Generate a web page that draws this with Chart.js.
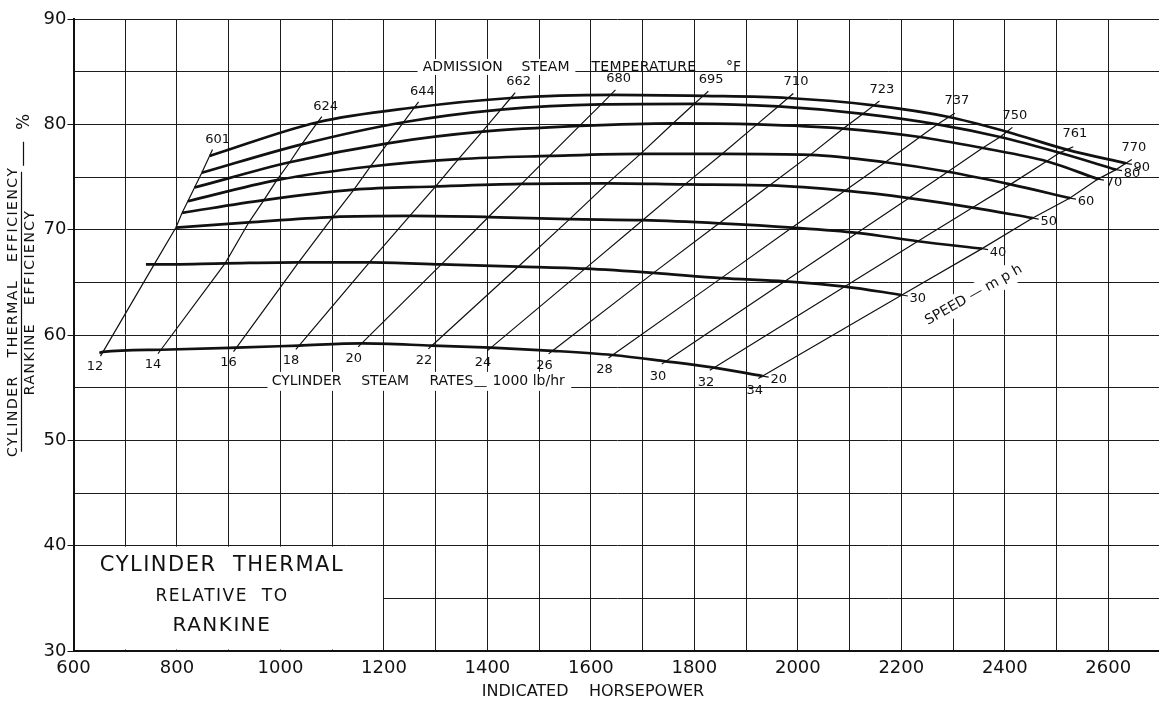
<!DOCTYPE html>
<html>
<head>
<meta charset="utf-8">
<title>Cylinder thermal efficiency relative to Rankine</title>
<script src="https://cdn.jsdelivr.net/npm/chart.js@4.4.0/dist/chart.umd.min.js"></script>
<style>
  html, body { margin: 0; padding: 0; background: #fff; overflow: hidden; }
  #wrap { width: 1163px; height: 706px; }
</style>
</head>
<body>
<div id="wrap"><canvas id="effChart" width="1163" height="706"></canvas></div>
<script>
// speed curves (mph) and the steam-rate lines that cross them
const speeds = [20, 30, 40, 50, 60, 70, 80, 90];
const steamRates = [12, 14, 16, 18, 20, 22, 24, 26, 28, 30, 32, 34];          // 1000 lb/hr
const admissionTemps = [601, 624, 644, 662, 680, 695, 710, 723, 737, 750, 761, 770]; // deg F

// indicated horsepower and efficiency (%) where each speed curve meets each steam-rate line
const hp20  = [657, 769, 915, 1036, 1157, 1293, 1407, 1526, 1642, 1745, 1838, 1932];
const eff20 = [58.4, 58.6, 58.8, 59.0, 59.2, 59.0, 58.8, 58.5, 58.1, 57.5, 56.9, 56.1];
const hp30  = [756, 893, 1035, 1172, 1311, 1460, 1589, 1721, 1852, 1975, 2091, 2201];
const eff30 = [66.7, 66.8, 66.9, 66.9, 66.7, 66.5, 66.3, 65.9, 65.4, 65.1, 64.6, 63.8];
const hp40  = [798, 939, 1101, 1250, 1402, 1559, 1700, 1848, 1989, 2115, 2232, 2356];
const eff40 = [70.2, 70.7, 71.2, 71.3, 71.2, 71.0, 70.9, 70.6, 70.2, 69.7, 68.9, 68.2];
const hp50  = [810, 968, 1142, 1300, 1466, 1632, 1782, 1945, 2091, 2215, 2338, 2454];
const eff50 = [71.6, 72.8, 73.8, 74.1, 74.35, 74.4, 74.3, 74.2, 73.7, 73.0, 72.1, 71.1];
const hp60  = [821, 993, 1174, 1344, 1520, 1696, 1854, 2024, 2169, 2290, 2411, 2526];
const eff60 = [72.7, 74.7, 76.0, 76.7, 77.0, 77.2, 77.2, 77.1, 76.4, 75.5, 74.3, 73.0];
const hp70  = [834, 1018, 1207, 1390, 1578, 1759, 1921, 2088, 2236, 2357, 2481, 2580];
const eff70 = [74.0, 76.4, 78.2, 79.3, 79.85, 80.1, 80.0, 79.6, 78.8, 77.75, 76.5, 74.8];
const hp80  = [848, 1041, 1238, 1426, 1620, 1800, 1962, 2126, 2270, 2391, 2506, 2615];
const eff80 = [75.4, 78.1, 80.2, 81.4, 81.9, 81.95, 81.7, 81.0, 80.0, 78.8, 77.3, 75.7];
const hp90  = [863, 1072, 1259, 1445, 1638, 1817, 1981, 2147, 2292, 2404, 2520, 2634];
const eff90 = [77.0, 80.2, 81.6, 82.5, 82.8, 82.7, 82.5, 81.8, 80.7, 79.3, 77.6, 76.3];

// the two slow curves run on a little past the 12 line at their left end (null = starts on it)
const startHp  = [650, 740, null, null, null, null, null, null];
const startEff = [58.3, 66.7, null, null, null, null, null, null];

// labelled ticks
const hpLabels  = [600, 800, 1000, 1200, 1400, 1600, 1800, 2000, 2200, 2400, 2600];
const effLabels = [30, 40, 50, 60, 70, 80, 90];

const hpRows  = [hp20, hp30, hp40, hp50, hp60, hp70, hp80, hp90];
const effRows = [eff20, eff30, eff40, eff50, eff60, eff70, eff80, eff90];

const FONT = 'DejaVu Sans';
const INK = '#111';

const datasets = [];
// thin steam rate lines, one point on every speed curve
steamRates.forEach((rate, i) => {
    datasets.push({
        label: rate + ' x1000 lb/hr',
        data: speeds.map((s, k) => ({ x: hpRows[k][i], y: effRows[k][i] })),
        showLine: true,
        borderColor: INK,
        borderWidth: 1.2,
        pointRadius: 0,
        tension: 0
    });
});
// heavy speed curves
speeds.forEach((s, k) => {
    let pts = hpRows[k].map((h, i) => ({ x: h, y: effRows[k][i] }));
    if (startHp[k] !== null) pts = [{ x: startHp[k], y: startEff[k] }].concat(pts);
    datasets.push({
        label: s + ' mph',
        data: pts,
        showLine: true,
        borderColor: INK,
        borderWidth: 2.7,
        pointRadius: 0,
        cubicInterpolationMode: 'monotone'
    });
});

function txt(ctx, s, x, y, o) {
    o = o || {};
    const size = o.size || 13;
    ctx.save();
    ctx.font = size + 'px "' + FONT + '"';
    if ('letterSpacing' in ctx) ctx.letterSpacing = (o.spacing || 0) + 'px';
    ctx.textAlign = o.align || 'center';
    ctx.textBaseline = 'middle';
    ctx.translate(x, y);
    if (o.angle) ctx.rotate(o.angle);
    if (o.bg !== undefined) {
        const w = ctx.measureText(s).width;
        const x0 = ctx.textAlign === 'left' ? 0 : -w / 2;
        ctx.fillStyle = '#fff';
        ctx.fillRect(x0 - o.bg, -size * 0.55 - o.bg, w + 2 * o.bg, size * 1.1 + 2 * o.bg);
    }
    ctx.fillStyle = INK;
    ctx.fillText(s, 0, 0);
    ctx.restore();
}

function blank(ctx, x0, y0, x1, y1) {
    ctx.save();
    ctx.fillStyle = '#fff';
    ctx.fillRect(x0, y0, x1 - x0, y1 - y0);
    ctx.restore();
}

const inkPlugin = {
    id: 'ink',
    beforeDatasetsDraw(chart) {
        // blank panel for the caption in the lower left corner
        const { ctx, scales: { x, y } } = chart;
        blank(ctx, x.getPixelForValue(600) + 1.5, y.getPixelForValue(40) + 1,
              x.getPixelForValue(1200) - 1, y.getPixelForValue(30) - 1.5);
    },
    afterDatasetsDraw(chart) {
        const { ctx, chartArea, scales: { x, y } } = chart;
        const X = v => x.getPixelForValue(v), Y = v => y.getPixelForValue(v);
        const top = hpRows.length - 1;

        ctx.save();
        ctx.strokeStyle = INK;
        ctx.lineWidth = 1.2;
        // small run-outs on the steam rate lines, plus their labels
        steamRates.forEach((rate, i) => {
            const ax = X(hpRows[top][i]), ay = Y(effRows[top][i]);
            const bx = X(hpRows[top - 1][i]), by = Y(effRows[top - 1][i]);
            const hx = X(hpRows[0][i]), hy = Y(effRows[0][i]);
            const gx = X(hpRows[1][i]), gy = Y(effRows[1][i]);
            const d1 = Math.hypot(ax - bx, ay - by), d2 = Math.hypot(hx - gx, hy - gy);
            ctx.beginPath();
            ctx.moveTo(ax, ay);
            ctx.lineTo(ax + (ax - bx) / d1 * 7, ay + (ay - by) / d1 * 7);
            ctx.moveTo(hx, hy);
            ctx.lineTo(hx + (hx - gx) / d2 * 5, hy + (hy - gy) / d2 * 5);
            ctx.stroke();
            txt(ctx, String(admissionTemps[i]), ax + 8, ay - 16, { size: 13 });
            txt(ctx, String(rate), hx - 8, hy + 15, { size: 13 });
        });
        // speed labels at the right end of each curve
        speeds.forEach((s, k) => {
            const last = hpRows[k].length - 1;
            const ex = X(hpRows[k][last]), ey = Y(effRows[k][last]);
            ctx.beginPath();
            ctx.moveTo(ex, ey);
            ctx.lineTo(ex + 6, ey + 1);
            ctx.stroke();
            txt(ctx, String(s), ex + 16, ey + 4, { size: 13 });
        });
        ctx.restore();

        // ADMISSION STEAM TEMPERATURE heading; the grid line breaks under the first two words
        const hy = Y(85.45);
        blank(ctx, X(1265), hy - 8, X(1570), hy + 8);
        txt(ctx, 'ADMISSION', X(1275), hy, { size: 14, align: 'left' });
        txt(ctx, 'STEAM', X(1466), hy, { size: 14, align: 'left' });
        txt(ctx, 'TEMPERATURE', X(1601), hy, { size: 14, align: 'left', spacing: 0.3 });
        txt(ctx, '___', X(1815), hy - 1, { size: 12, align: 'left' });
        txt(ctx, '°F', X(1861), hy, { size: 14, align: 'left' });

        // steam rate heading, sits on a gap in the grid
        blank(ctx, X(975), Y(56.5), X(1562), Y(54.7));
        const ry = Y(55.63);
        txt(ctx, 'CYLINDER', X(983), ry, { size: 14, align: 'left' });
        txt(ctx, 'STEAM', X(1156), ry, { size: 14, align: 'left' });
        txt(ctx, 'RATES', X(1288), ry, { size: 14, align: 'left' });
        txt(ctx, '__', X(1375), ry, { size: 12, align: 'left' });
        txt(ctx, '1000 lb/hr', X(1410), ry, { size: 14, align: 'left' });

        // speed axis note, slanted
        txt(ctx, 'SPEED — m p h', X(2340), Y(63.8), { size: 14, angle: -29.5 * Math.PI / 180, bg: 3 });

        // caption panel
        const cx = X(887);
        txt(ctx, 'CYLINDER  THERMAL', cx, Y(38.07), { size: 21, spacing: 1.5 });
        txt(ctx, 'RELATIVE  TO', cx, Y(35.12), { size: 17, spacing: 1.5 });
        txt(ctx, 'RANKINE', cx, Y(32.37), { size: 20, spacing: 1.5 });

        // x title
        txt(ctx, 'INDICATED    HORSEPOWER', X(1604), chartArea.bottom + 41, { size: 16 });

        // y title: efficiency ratio written as a fraction
        const l = chartArea.left;
        const up = -Math.PI / 2;
        const mid = Y(62.2);
        txt(ctx, 'CYLINDER   THERMAL   EFFICIENCY', l - 60.5, mid, { size: 14, spacing: 1.5, angle: up });
        txt(ctx, 'RANKINE   EFFICIENCY', l - 43.5, Y(63.1), { size: 14, spacing: 1.5, angle: up });
        ctx.save();
        ctx.strokeStyle = INK;
        ctx.lineWidth = 1.2;
        ctx.beginPath();
        ctx.moveTo(l - 52, mid + 140);
        ctx.lineTo(l - 52, mid - 140);
        ctx.moveTo(l - 50, mid - 146);
        ctx.lineTo(l - 50, mid - 170);
        ctx.stroke();
        ctx.restore();
        txt(ctx, '%', l - 48.5, mid - 190, { size: 17, angle: up });
    }
};

new Chart(document.getElementById('effChart'), {
    type: 'scatter',
    data: { datasets: datasets },
    options: {
        responsive: false,
        animation: false,
        events: [],
        layout: { padding: { top: 19, right: 1.5, left: 0, bottom: 0 } },
        plugins: {
            legend: { display: false },
            tooltip: { enabled: false }
        },
        scales: {
            x: {
                type: 'linear',
                min: 600,
                max: 2700,
                afterFit: s => { s.height = 55; },
                ticks: {
                    stepSize: 100,
                    autoSkip: false,
                    maxRotation: 0,
                    padding: 3,
                    color: INK,
                    font: { family: FONT, size: 18 },
                    callback: v => hpLabels.includes(v) ? String(v) : ''
                },
                grid: {
                    color: '#1c1c1c',
                    lineWidth: 1,
                    tickLength: 4,
                    tickColor: 'rgba(0,0,0,0)'
                },
                border: { color: INK, width: 2 }
            },
            y: {
                type: 'linear',
                min: 30,
                max: 90,
                afterFit: s => { s.width = 73.5; },
                ticks: {
                    stepSize: 5,
                    padding: 1,
                    color: INK,
                    font: { family: FONT, size: 18 },
                    callback: v => effLabels.includes(v) ? String(v) : ''
                },
                grid: {
                    color: '#1c1c1c',
                    lineWidth: 1,
                    tickLength: 6,
                    tickColor: ctx => effLabels.includes(ctx.tick.value) ? INK : 'rgba(0,0,0,0)'
                },
                border: { color: INK, width: 2 }
            }
        }
    },
    plugins: [inkPlugin]
});
</script>
</body>
</html>
